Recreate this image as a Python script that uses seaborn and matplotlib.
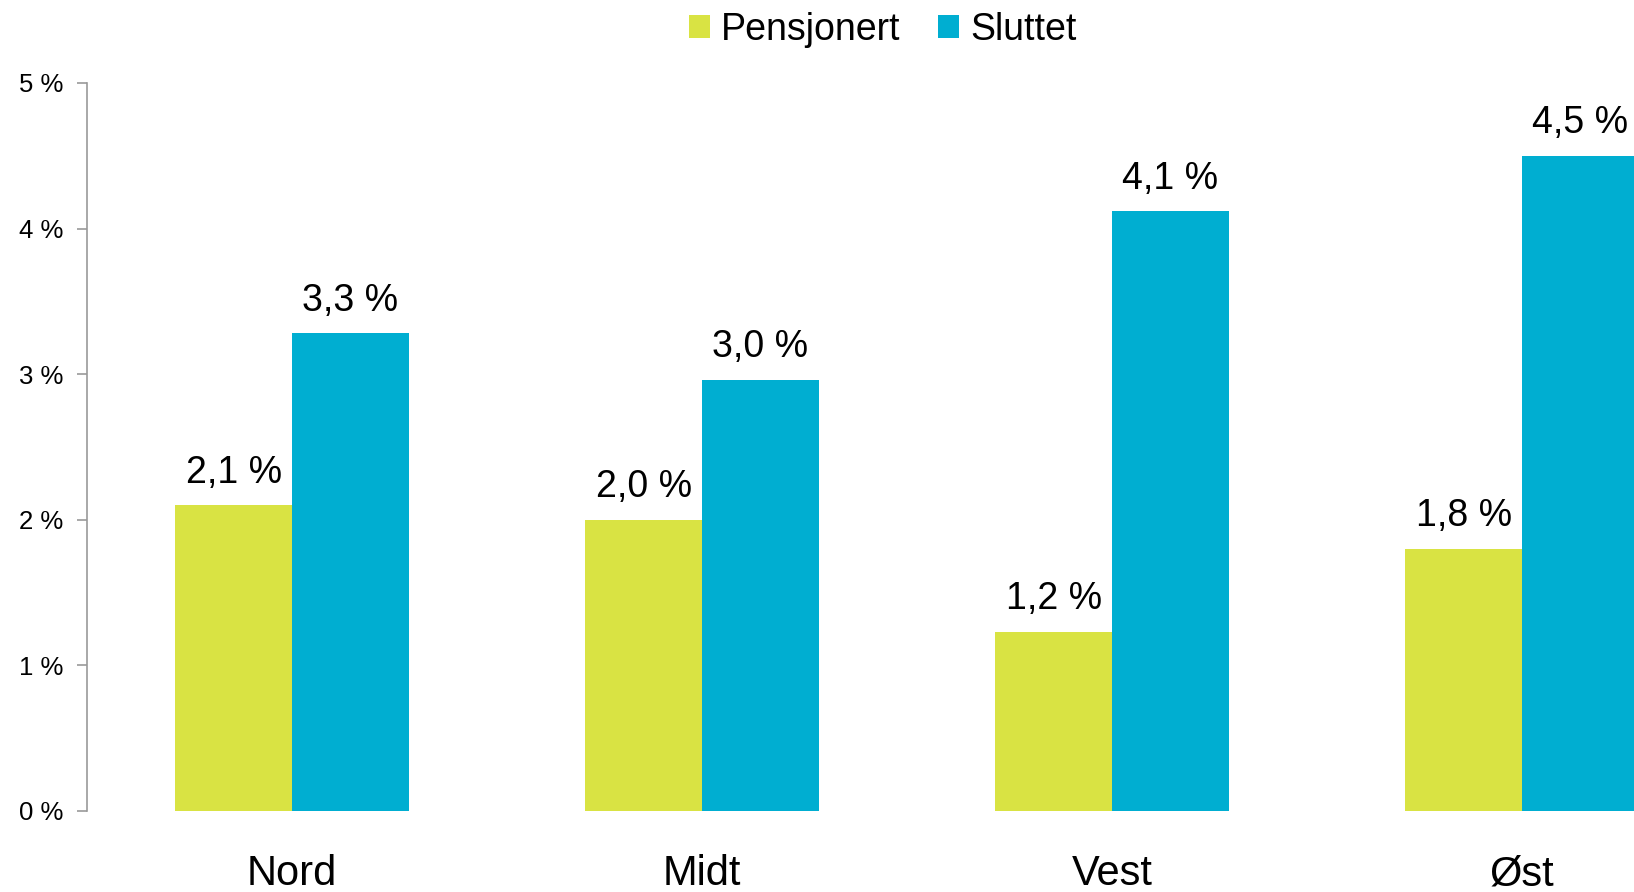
import matplotlib
matplotlib.use("Agg")
import matplotlib.pyplot as plt
import seaborn as sns
import pandas as pd

regions = ["Nord", "Midt", "Vest", "Øst"]
series = ["Pensjonert", "Sluttet"]
pensjonert = [2.1, 2.0, 1.23, 1.8]
sluttet = [3.28, 2.96, 4.12, 4.5]
yticks = [0, 1, 2, 3, 4, 5]
colors = ["#D9E343", "#00AED1"]

df = pd.DataFrame({
    "region": regions * 2,
    "serie": [series[0]] * 4 + [series[1]] * 4,
    "value": pensjonert + sluttet,
})

sns.set_theme(style="white")
plt.rcParams["font.family"] = ["Liberation Sans", "DejaVu Sans"]

fig = plt.figure(figsize=(16.34, 8.92), dpi=100)
ax = fig.add_axes([87 / 1634, 1 - 811 / 892, 1 - 87 / 1634, (811 - 83) / 892])

sns.barplot(data=df, x="region", y="value", hue="serie", order=regions,
            hue_order=series, palette=colors, width=0.57, gap=0,
            saturation=1, linewidth=0, ax=ax, legend=True)

ax.set_xlim(-0.5, 3.273)
ax.set_ylim(0, 5)
ax.set_yticks(yticks)
ax.set_yticklabels([f"{t} %" for t in yticks], fontsize=18.5, color="black")
ax.set_xlabel("")
ax.set_ylabel("")
ax.tick_params(axis="x", labelsize=30, length=0, pad=31, labelcolor="black")
ax.tick_params(axis="y", left=True, length=7, width=1.2, color="#999999", pad=10)
for s in ["top", "right", "bottom"]:
    ax.spines[s].set_visible(False)
ax.spines["left"].set_color("#999999")
ax.spines["left"].set_linewidth(1.2)

for cont in ax.containers:
    for bar in cont:
        h = bar.get_height()
        ax.text(bar.get_x() + bar.get_width() / 2, h + 0.1,
                f"{h:.1f} %".replace(".", ","), ha="center", va="bottom",
                fontsize=27, color="black", clip_on=False)

leg = ax.legend(loc="upper center", bbox_to_anchor=(883 / 1634, 1.012),
                bbox_transform=fig.transFigure, ncol=2, frameon=False,
                fontsize=27, handlelength=0.55, handleheight=0.55,
                handletextpad=0.3, columnspacing=1.0, borderaxespad=0.2)
for t in leg.get_texts():
    t.set_color("black")

fig.savefig("out.png", dpi=100)
